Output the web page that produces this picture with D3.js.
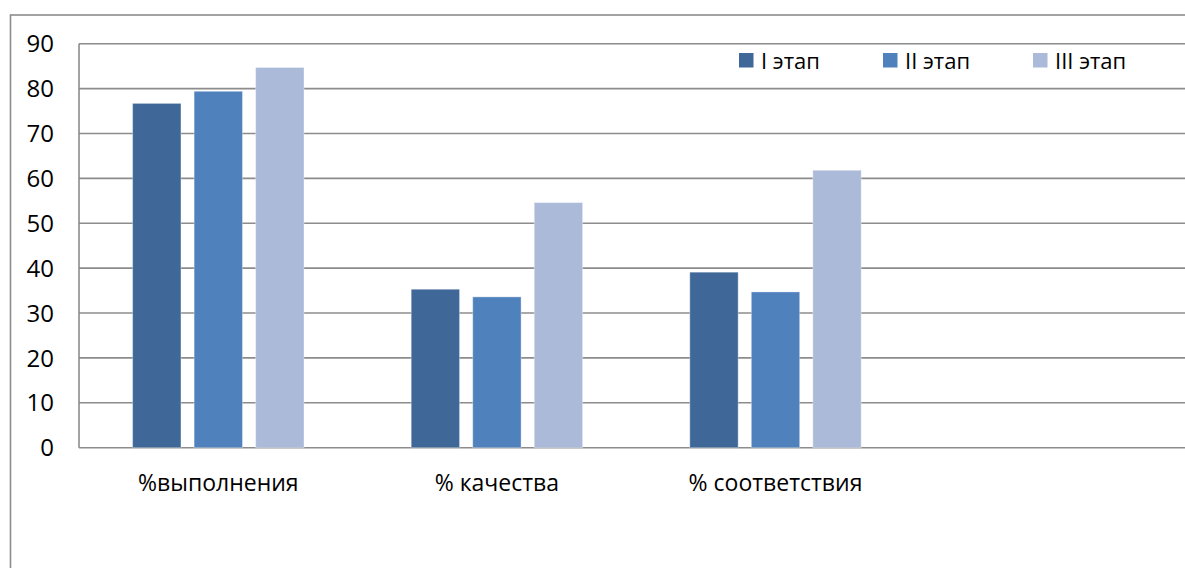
<!DOCTYPE html>
<html>
<head>
<meta charset="utf-8">
<script src="https://cdn.jsdelivr.net/npm/d3@7"></script>
<style>
  body { margin: 0; background: #fff; }
  text { font-family: "Open Sans", "Noto Sans", sans-serif; fill: #000; }
</style>
</head>
<body>
<script>
const width = 1185;
const height = 568;

// данные
const categories = ['%выполнения', '% качества', '% соответствия', ''];
const seriesNames = ['I этап', 'II этап', 'III этап'];
const stage1 = [76.7, 35.3, 39.1, null];
const stage2 = [79.4, 33.6, 34.7, null];
const stage3 = [84.7, 54.6, 61.8, null];
const yTicks = [0, 10, 20, 30, 40, 50, 60, 70, 80, 90];
const colors = ['#3f6898', '#4f81bd', '#aabad8'];

const seriesValues = [stage1, stage2, stage3];

const plot = { left: 79, top: 43.7, bottom: 447.7, band: 278.6 };

const svg = d3.select('body').append('svg')
  .attr('width', width)
  .attr('height', height);

// рамка диаграммы
svg.append('rect')
  .attr('x', 10.5).attr('y', 15)
  .attr('width', 1300).attr('height', 700)
  .attr('fill', 'none')
  .attr('stroke', '#8c8c8c')
  .attr('stroke-width', 1.6);

const x0 = d3.scaleBand()
  .domain(categories.map((d, i) => i))
  .range([plot.left, plot.left + plot.band * categories.length]);

const x1 = d3.scaleBand()
  .domain(seriesNames)
  .range([53.6, plot.band - 53.6])
  .paddingInner(0.214);

const y = d3.scaleLinear()
  .domain([0, 90])
  .range([plot.bottom, plot.top]);

// сетка
svg.append('g')
  .selectAll('line')
  .data(yTicks)
  .enter()
  .append('line')
  .attr('x1', plot.left).attr('x2', width + 20)
  .attr('y1', d => y(d)).attr('y2', d => y(d))
  .attr('stroke', '#8c8c8c')
  .attr('stroke-width', 1.6);

// вертикальная ось
svg.append('line')
  .attr('x1', plot.left).attr('x2', plot.left)
  .attr('y1', y(90)).attr('y2', y(0))
  .attr('stroke', '#8c8c8c')
  .attr('stroke-width', 1.6);

// подписи оси Y
svg.append('g')
  .selectAll('text')
  .data(yTicks)
  .enter()
  .append('text')
  .attr('x', 54)
  .attr('y', d => y(d))
  .attr('dy', '0.36em')
  .attr('text-anchor', 'end')
  .style('font-size', '24px')
  .text(d => d);

// столбцы
const groups = svg.append('g')
  .selectAll('g')
  .data(categories.map((c, i) => i))
  .enter()
  .append('g')
  .attr('transform', i => `translate(${x0(i)},0)`);

groups.selectAll('rect')
  .data(i => seriesNames.map((s, k) => ({ s, k, v: seriesValues[k][i] })).filter(d => d.v != null))
  .enter()
  .append('rect')
  .attr('x', d => x1(d.s))
  .attr('y', d => y(d.v))
  .attr('width', x1.bandwidth())
  .attr('height', d => y(0) - y(d.v))
  .attr('fill', d => colors[d.k])
  .attr('stroke', 'rgba(255,255,255,0.35)')
  .attr('stroke-width', 1);

// подписи категорий
svg.append('g')
  .selectAll('text')
  .data(categories.map((c, i) => i))
  .enter()
  .append('text')
  .attr('x', i => x0(i) + x0.bandwidth() / 2)
  .attr('y', 491)
  .attr('text-anchor', 'middle')
  .style('font-size', '23px')
  .text(i => categories[i]);

// легенда
const legendX = [739, 883, 1033];
const legend = svg.append('g')
  .selectAll('g')
  .data(seriesNames)
  .enter()
  .append('g')
  .attr('transform', (d, i) => `translate(${legendX[i]},53)`);

legend.append('rect')
  .attr('width', 14.5).attr('height', 14.5)
  .attr('fill', (d, i) => colors[i]);

legend.append('text')
  .attr('x', 22)
  .attr('y', 15.5)
  .style('font-size', '22px')
  .text(d => d);
</script>
</body>
</html>
